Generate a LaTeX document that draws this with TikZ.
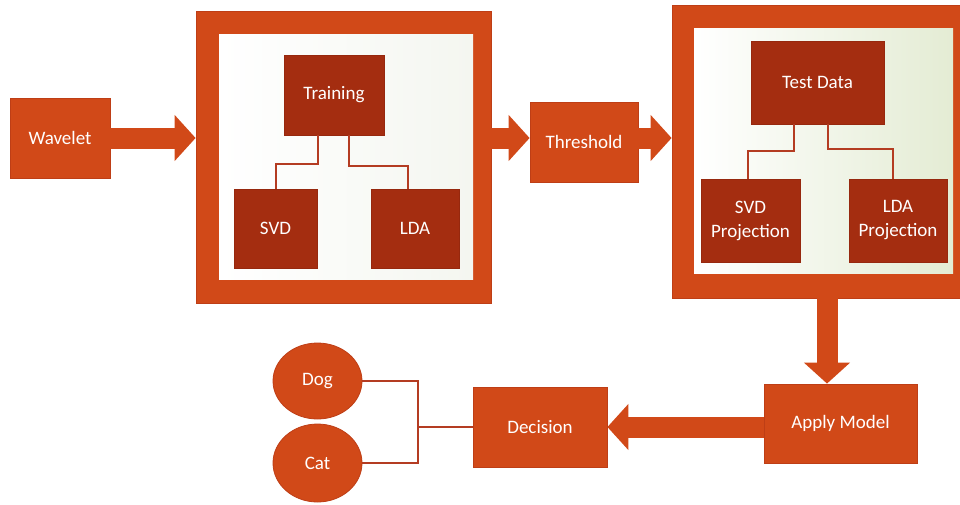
\documentclass[tikz,border=0pt]{standalone}
\usepackage{fontspec}
\setmainfont{Carlito}
\usetikzlibrary{arrows.meta,calc,shapes.geometric}

\definecolor{orangefill}{RGB}{209,73,24}
\definecolor{orangeedge}{RGB}{190,62,22}
\definecolor{darkfill}{RGB}{164,45,16}
\definecolor{darkedge}{RGB}{150,40,14}
\definecolor{treeline}{RGB}{180,60,34}
\definecolor{panelgreen}{RGB}{228,236,212}
\definecolor{panelgrey}{RGB}{244,246,240}

\tikzset{
  block/.style={draw=orangeedge, line width=0.8pt, fill=orangefill, text=white,
    inner sep=0pt, align=center, font=\fontsize{19}{24}\selectfont},
  darkblock/.style={block, draw=darkedge, fill=darkfill},
  frame/.style={draw=orangeedge, line width=0.8pt, fill=orangefill, inner sep=0pt},
  bigarrow/.style={draw=orangefill, line width=21pt, -{Triangle[length=21pt,width=45pt]}},
  tree/.style={draw=treeline, line width=2pt},
  leaf/.style={draw=treeline, line width=1.5pt}
}

\begin{document}
\begin{tikzpicture}[x=1pt,y=-1pt]
    \useasboundingbox (0,0) rectangle (960,504);
    \clip (0,0) rectangle (960,504);

    % Wavelet
    \node[block, minimum width=100pt, minimum height=80pt] (wavelet) at (60,138) {Wavelet};

    % Training frame
    \node[frame, minimum width=295pt, minimum height=292pt] (trainframe) at (343.5,157) {};
    \node[inner sep=0pt, left color=white, right color=panelgrey, minimum width=254pt, minimum height=245pt] (trainpanel) at (346,156.5) {};
    \node[darkblock, minimum width=100pt, minimum height=80pt] (train) at (334,95) {Training};
    \node[darkblock, minimum width=83pt, minimum height=79pt] (svd) at (275.5,228.5) {SVD};
    \node[darkblock, minimum width=88pt, minimum height=79pt] (lda) at (415,228.5) {LDA};
    \draw[tree] ($(train.south)+(-16,0)$) -- ++(0,29) -| (svd.north);
    \draw[tree] ($(train.south)+(15,0)$) -- ++(0,31) -| ($(lda.north)+(-7,0)$);

    % Threshold
    \node[block, minimum width=108pt, minimum height=80pt] (thr) at (584,142) {Threshold};

    % Test frame
    \node[frame, minimum width=303pt, minimum height=293pt] (testframe) at (823.5,151.5) {};
    \node[inner sep=0pt, left color=white, right color=panelgreen, minimum width=259pt, minimum height=245pt] (testpanel) at (823.5,150.5) {};
    \node[darkblock, minimum width=133pt, minimum height=83pt] (test) at (817.5,82.5) {Test Data};
    \node[darkblock, minimum width=99pt, minimum height=83pt] (svdproj) at (750.5,220.5) {SVD\\Projection};
    \node[darkblock, minimum width=98pt, minimum height=83pt] (ldaproj) at (898,220.5) {LDA\\Projection};
    \draw[tree] ($(test.south)+(-24,0)$) -- ++(0,27) -| ($(svdproj.north)+(-3,0)$);
    \draw[tree] ($(test.south)+(10,0)$) -- ++(0,25) -| ($(ldaproj.north)+(-5,0)$);

    % Apply Model, Decision
    \node[block, minimum width=153pt, minimum height=79pt] (apply) at (840.5,423.5) {Apply Model};
    \node[block, minimum width=134pt, minimum height=80pt] (decision) at (540,427) {Decision};

    % Dog, Cat
    \node[block, ellipse, minimum width=89pt, minimum height=76pt] (dog) at (317.5,381) {Dog};
    \node[block, ellipse, minimum width=89pt, minimum height=78pt] (cat) at (317.5,463) {Cat};
    \coordinate (fork) at (418,427);
    \draw[leaf] (dog.east) -| (fork) |- (cat.east);
    \draw[leaf] (fork) -- (decision.west);

    % Block arrows
    \draw[bigarrow] (wavelet.east) -- (wavelet.east -| trainframe.west);
    \draw[bigarrow] (trainframe.east |- wavelet) -- (thr.west |- wavelet);
    \draw[bigarrow] (thr.east |- wavelet) -- (testframe.west |- wavelet);
    \draw[bigarrow] (testframe.south -| 827,0) -- (apply.north -| 827,0);
    \draw[bigarrow] (apply.west |- decision) -- (decision.east);
  \end{tikzpicture}
\end{document}
